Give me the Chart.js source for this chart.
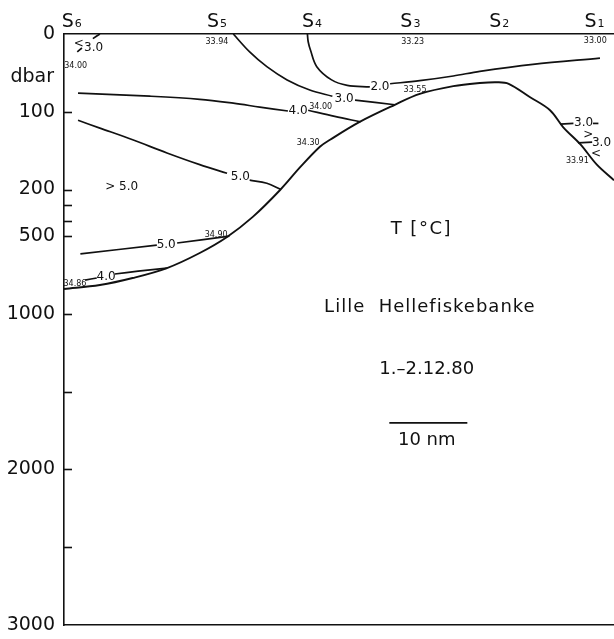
<!DOCTYPE html>
<html>
<head>
<meta charset="utf-8">
<script src="https://cdn.jsdelivr.net/npm/chart.js@4.4.1/dist/chart.umd.min.js"></script>
<style>
  html, body { margin: 0; padding: 0; background: #fff; }
  #wrap { width: 614px; height: 639px; }
</style>
</head>
<body>
<div id="wrap"><canvas id="section" width="614" height="639"></canvas></div>
<script>
// distance along section in nautical miles, depth in dbar
const stationNames = ['6', '5', '4', '3', '2', '1'];
const stationNm = [1.0, 19.6, 31.8, 44.4, 55.8, 68.0];

const depthTicks = [0, 100, 200, 500, 1000, 2000, 3000];
const innerTicks = [100, 200, 300, 400, 500, 1000, 1500, 2000, 2500];

// bottom profile [nm, dbar]
const bottomLine = [[0, 840], [4.6, 814], [8.8, 769], [13.2, 705], [17.4, 608], [20.9, 505], [24.2, 376],
  [27.7, 203], [30.3, 171], [32.8, 145], [34.1, 136], [37.9, 113], [42.4, 91], [45.6, 77], [49.9, 67],
  [53.3, 63], [55.5, 62], [57.0, 64], [59.7, 81], [62.3, 98], [64.0, 120], [66.2, 142], [68.3, 168], [70.5, 188]];

// isotherms, null = gap for the label
const iso30left = [[4.6, 0], [3.7, 6], null, [2.3, 18], [1.7, 23]];
const iso40upper = [[1.8, 76], [11.0, 80], [17.4, 84], [21.7, 89], [25.1, 94], [28.7, 99], null,
  [31.3, 98], [34.7, 106], [38.0, 113]];
const iso30mid = [[21.7, 0], [23.8, 23], [26.0, 42], [28.6, 59], [31.5, 72], [34.4, 80], null,
  [37.3, 85], [42.4, 91]];
const iso20 = [[31.2, 0], [31.3, 10], [31.6, 21], [32.4, 42], [34.3, 59], [36.3, 66], [39.2, 68], null,
  [41.8, 64], [45.6, 60], [49.9, 54], [53.3, 48], [60.1, 39], [68.7, 31]];
const iso50upper = [[1.8, 111], [4.6, 121], [8.8, 136], [13.2, 153], [17.4, 168], [20.9, 179], null,
  [23.8, 188], [26.0, 192], [27.8, 200]];
const iso50lower = [[2.1, 614], [11.9, 557], null, [14.5, 544], [21.2, 500]];
const iso40lower = [[2.7, 782], [4.2, 769], null, [6.5, 743], [9.5, 725], [13.2, 705]];
const iso30right = [[63.6, 116], [65.3, 115], null, [67.8, 115], [68.5, 115], null, [65.9, 140], [67.7, 139]];

// temperature labels [text, nm, dbar]
const tempLabels = [
  ['3.0', 3.8, 18], ['<', 1.9, 13], ['4.0', 30.0, 99], ['3.0', 35.9, 83], ['2.0', 40.5, 68],
  ['5.0', 22.6, 184], ['> 5.0', 7.4, 196], ['5.0', 13.1, 557], ['4.0', 5.4, 762],
  ['3.0', 66.6, 114.5], ['>', 67.2, 130], ['3.0', 68.9, 140], ['<', 68.2, 154]
];

// salinity values written at the stations
const salinityText = ['34.00', '33.94', '33.23', '33.00', '33.55', '34.00', '34.30', '34.90', '34.86', '33.91'];
const salinityNm = [1.5, 19.6, 44.7, 68.1, 45.0, 32.9, 31.3, 19.5, 1.4, 65.8];
const salinityDbar = [40.5, 10.3, 10.3, 9, 72, 94, 140, 492, 807, 163];

const titleLines = [['T [°C]', 45.8, 454], ['Lille  Hellefiskebanke', 46.9, 955], ['1.–2.12.80', 46.5, 1354], ['10 nm', 46.5, 1810]];
const scaleBar = [[41.7, 1701], [51.7, 1701]];

const ink = '#111';
const font = 'DejaVu Sans';

// 0-200 dbar stretched, deeper part compressed 5x
function depthY(d) { return d <= 200 ? d : 200 + (d - 200) / 5; }

function splitLine(list) {
  const parts = [[]];
  list.forEach(p => {
    if (p === null) parts.push([]);
    else parts[parts.length - 1].push({ x: p[0], y: depthY(p[1]) });
  });
  return parts.filter(p => p.length > 1);
}

const datasets = [];
function addLine(list, tension, width) {
  splitLine(list).forEach(pts => {
    datasets.push({
      data: pts, borderColor: ink, borderWidth: width, pointRadius: 0,
      tension: tension, fill: false
    });
  });
}
addLine(bottomLine, 0.35, 1.9);
[iso30left, iso40upper, iso30mid, iso20, iso50upper, iso50lower, iso40lower].forEach(l => addLine(l, 0.35, 1.7));
addLine(iso30right, 0, 1.7);
addLine(scaleBar, 0, 1.7);

// no extra room for the first / last tick labels
function noPad(s) { s.paddingTop = 0; s.paddingBottom = 0; s.paddingLeft = 0; s.paddingRight = 0; }

const annotate = {
  id: 'annotate',
  afterDraw(chart) {
    const { ctx, chartArea } = chart;
    const xs = chart.scales.x, ys = chart.scales.y;
    const px = nm => xs.getPixelForValue(nm);
    const py = d => ys.getPixelForValue(depthY(d));
    ctx.save();
    ctx.strokeStyle = ink;
    ctx.fillStyle = ink;
    ctx.lineWidth = 1.6;

    // ticks pointing into the plot
    innerTicks.forEach(d => {
      const yy = Math.round(py(d)) + 0.5;
      ctx.beginPath();
      ctx.moveTo(chartArea.left, yy);
      ctx.lineTo(chartArea.left + 8, yy);
      ctx.stroke();
    });

    ctx.font = '19px "' + font + '"';
    ctx.textAlign = 'right';
    ctx.textBaseline = 'alphabetic';
    ctx.fillText('dbar', chartArea.left - 10, 82);

    // station names with subscript
    ctx.textAlign = 'left';
    stationNames.forEach((n, i) => {
      ctx.font = '19px "' + font + '"';
      const wS = ctx.measureText('S').width;
      ctx.font = '11px "' + font + '"';
      const wN = ctx.measureText(n).width;
      const left = px(stationNm[i]) - (wS + wN + 1) / 2;
      ctx.font = '19px "' + font + '"';
      ctx.fillText('S', left, 27);
      ctx.font = '11px "' + font + '"';
      ctx.fillText(n, left + wS + 1, 27);
    });

    ctx.textAlign = 'center';
    ctx.textBaseline = 'middle';
    ctx.font = '12px "' + font + '"';
    tempLabels.forEach(t => ctx.fillText(t[0], px(t[1]), py(t[2])));

    ctx.font = '8px "' + font + '"';
    salinityText.forEach((s, i) => ctx.fillText(s, px(salinityNm[i]), py(salinityDbar[i])));

    ctx.font = '18px "' + font + '"';
    titleLines.forEach((t, i) => {
      ctx.letterSpacing = i === 1 ? '1px' : (i === 0 ? '1.5px' : '0px');
      ctx.fillText(t[0], px(t[1]), py(t[2]));
    });
    ctx.restore();
  }
};

new Chart(document.getElementById('section'), {
  type: 'line',
  data: { datasets: datasets },
  options: {
    responsive: false,
    animation: false,
    events: [],
    layout: { padding: 0 },
    elements: { line: { capBezierPoints: false } },
    plugins: { legend: { display: false }, tooltip: { enabled: false } },
    scales: {
      x: {
        type: 'linear', position: 'top', min: 0, max: 70.5,
        afterFit: s => { s.height = 34; noPad(s); },
        ticks: { display: false },
        grid: { display: true, drawOnChartArea: false, drawTicks: false },
        border: { display: true, color: ink, width: 1.6 }
      },
      x2: {
        type: 'linear', position: 'bottom', min: 0, max: 70.5,
        afterFit: s => { s.height = 14; noPad(s); },
        ticks: { display: false },
        grid: { display: true, drawOnChartArea: false, drawTicks: false },
        border: { display: true, color: ink, width: 1.6 }
      },
      y: {
        type: 'linear', position: 'left', reverse: true, min: 0, max: depthY(3000),
        afterFit: s => { s.width = 64; noPad(s); },
        afterBuildTicks: s => { s.ticks = depthTicks.map(d => ({ value: depthY(d) })); },
        ticks: {
          autoSkip: false, padding: 9, color: ink,
          font: { family: font, size: 19 },
          callback: (v, i) => String(depthTicks[i])
        },
        grid: { display: true, drawOnChartArea: false, drawTicks: false },
        border: { display: true, color: ink, width: 1.6 }
      }
    }
  },
  plugins: [annotate]
});
</script>
</body>
</html>
